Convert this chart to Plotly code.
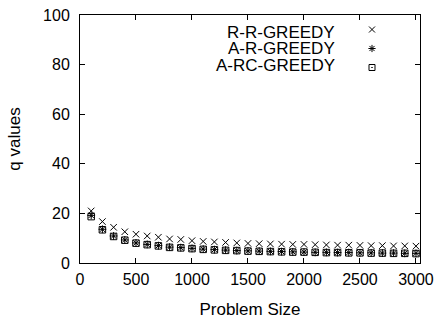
import plotly.graph_objects as go

problem_size = [100, 200, 300, 400, 500, 600, 700, 800, 900, 1000,
                1100, 1200, 1300, 1400, 1500, 1600, 1700, 1800, 1900, 2000,
                2100, 2200, 2300, 2400, 2500, 2600, 2700, 2800, 2900, 3000]

rr_greedy = [21.0, 16.7, 14.4, 12.6, 11.6, 10.9, 10.4, 9.7, 9.5, 9.0,
             8.7, 8.5, 8.3, 8.1, 7.9, 7.8, 7.7, 7.6, 7.5, 7.5,
             7.4, 7.3, 7.2, 7.2, 7.1, 7.0, 7.0, 6.9, 6.9, 6.8]

ar_greedy = [19.2, 13.6, 10.9, 9.3, 8.1, 7.5, 7.0, 6.4, 6.2, 5.9,
             5.6, 5.4, 5.2, 5.0, 4.9, 4.8, 4.7, 4.6, 4.5, 4.4,
             4.3, 4.3, 4.2, 4.2, 4.1, 4.1, 4.0, 4.0, 3.9, 3.9]

arc_greedy = [18.7, 13.4, 10.7, 9.2, 8.0, 7.4, 6.9, 6.3, 6.1, 5.8,
              5.5, 5.3, 5.1, 5.0, 4.8, 4.7, 4.6, 4.5, 4.4, 4.4,
              4.3, 4.2, 4.2, 4.1, 4.1, 4.0, 4.0, 3.9, 3.9, 3.8]

series_names = ["R-R-GREEDY", "A-R-GREEDY", "A-RC-GREEDY"]
series_values = [rr_greedy, ar_greedy, arc_greedy]
symbols = ["x-thin-open", "asterisk-open", "square-open-dot"]

x_ticks = [0, 500, 1000, 1500, 2000, 2500, 3000]
y_ticks = [0, 20, 40, 60, 80, 100]

FONT = "Liberation Sans, Arial, Helvetica, sans-serif"

fig = go.Figure()
for name, vals, sym in zip(series_names, series_values, symbols):
    fig.add_trace(go.Scatter(
        x=problem_size, y=vals, mode="markers", name=name,
        showlegend=False,
        marker=dict(symbol=sym, size=6.5, color="black",
                    line=dict(color="black", width=1)),
    ))
# legend keys (symbols only; labels as right-aligned text like gnuplot)
for name, sym in zip(series_names, symbols):
    fig.add_trace(go.Scatter(
        x=[None], y=[None], mode="markers", name=" ",
        legendgroup=name, showlegend=True,
        marker=dict(symbol=sym, size=6, color="black",
                    line=dict(color="black", width=1)),
    ))

annotations = []
label_y = [0.931, 0.865, 0.798]
for name, yy in zip(series_names, label_y):
    annotations.append(dict(
        x=0.756, y=yy, xref="paper", yref="paper", text=name,
        showarrow=False, xanchor="right", yanchor="middle",
        font=dict(family=FONT, size=17, color="black"),
    ))

axis_common = dict(
    showgrid=False, zeroline=False, showline=True, linecolor="black",
    linewidth=1, mirror="allticks", ticks="inside", ticklen=5,
    tickcolor="black", tickfont=dict(family=FONT, size=16, color="black"),
    automargin=False,
)

fig.update_layout(
    width=439, height=322,
    margin=dict(l=80, r=19, t=15, b=59, autoexpand=False),
    paper_bgcolor="white", plot_bgcolor="white",
    font=dict(family=FONT, size=17, color="black"),
    xaxis=dict(range=[0, 3036], tickvals=x_ticks,
               title=dict(text="Problem Size", standoff=15,
                          font=dict(family=FONT, size=17)),
               ticklabelstandoff=2, **axis_common),
    yaxis=dict(range=[0, 100], tickvals=y_ticks,
               title=dict(text="q values", standoff=18,
                          font=dict(family=FONT, size=17)),
               ticklabelstandoff=6, **axis_common),
    legend=dict(x=0.8, y=1.0, xanchor="left", yanchor="top",
                bgcolor="rgba(0,0,0,0)", font=dict(size=11),
                tracegroupgap=0, itemwidth=30),
    annotations=annotations,
)

fig.write_html("out.html")
